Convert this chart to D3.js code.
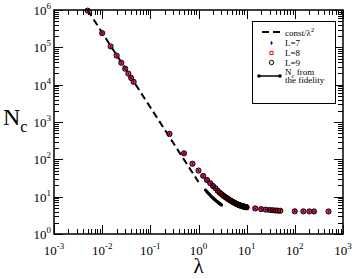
<!DOCTYPE html>
<html lang="en">
<head>
<meta charset="UTF-8">
<title>Nc vs lambda</title>
<script src="https://cdn.jsdelivr.net/npm/d3@7"></script>
<style>
  body { margin: 0; background: #fff; }
  svg text { font-family: "Liberation Serif", "Times New Roman", serif; fill: #000; }
</style>
</head>
<body>
<script>
// L=7, L=8, L=9 points coincide on the picture
var lambdaL = [0.005, 0.01, 0.015, 0.02, 0.025, 0.03, 0.035, 0.04, 0.045,
    0.25, 0.5, 0.75, 1, 1.25, 1.5, 1.75, 2, 2.25, 2.5, 2.75, 3, 3.25, 3.5, 3.75, 4,
    4.25, 4.5, 4.75, 5, 5.25, 5.5, 5.75, 6, 6.25, 6.5, 6.75, 7, 7.25, 7.5, 7.75, 8,
    8.25, 8.5, 8.75, 9, 9.25, 9.5, 9.75, 10, 15, 20, 25, 30, 35, 40, 45, 50,
    100, 150, 200, 250, 500];
var ncL = [960000, 240000, 106000, 60000, 38500, 26800, 19700, 15100, 11900,
    478, 145, 76, 50, 36, 28, 23, 19.3, 16.8, 14.4, 12.8, 11.7, 10.8, 10.0, 9.4, 8.9,
    8.45, 8.05, 7.7, 7.4, 7.15, 6.9, 6.7, 6.5, 6.35, 6.2, 6.05, 5.95, 5.85, 5.75, 5.67, 5.6,
    5.53, 5.47, 5.41, 5.36, 5.31, 5.27, 5.23, 5.2, 4.85, 4.65, 4.5, 4.4, 4.33, 4.27, 4.22, 4.18,
    4.06, 4.04, 4.03, 4.02, 4.01];

// Nc from the fidelity, two pieces
var fidLambdaA = [1.4, 1.5, 1.6, 1.7, 1.8, 1.9, 2.0, 2.1, 2.2, 2.3, 2.4, 2.5, 2.6, 2.7, 2.8, 2.9, 3.0];
var fidNcA = [15.0, 13.6, 12.4, 11.4, 10.5, 9.8, 9.2, 8.7, 8.25, 7.85, 7.5, 7.2, 6.9, 6.65, 6.42, 6.2, 6.0];
var fidLambdaB = [2.5, 2.75, 3, 3.25, 3.5, 3.75, 4, 4.25, 4.5, 4.75, 5, 5.25, 5.5, 5.75, 6, 6.25,
    6.5, 6.75, 7, 7.25, 7.5, 7.75, 8, 8.25, 8.5, 8.75, 9, 9.25, 9.5, 9.75, 10, 10.25, 10.5];
var fidNcB = [14.0, 12.5, 11.4, 10.55, 9.8, 9.2, 8.7, 8.27, 7.9, 7.56, 7.27, 7.02, 6.79, 6.59, 6.4, 6.25,
    6.1, 5.97, 5.86, 5.76, 5.67, 5.59, 5.52, 5.46, 5.4, 5.34, 5.29, 5.24, 5.2, 5.16, 5.13, 5.1, 5.07];

// const/lambda^2 guide (straight in log-log, two ends)
var fitLambda = [0.005, 1.0];
var fitNc = [988000, 24.7];

var xTickExp = [-3, -2, -1, 0, 1, 2, 3];
var yTickExp = [0, 1, 2, 3, 4, 5, 6];

var W = 353, H = 279;
var margin = {top: 10, right: 10, bottom: 45, left: 54};
var x0 = margin.left, x1 = W - margin.right, y0 = H - margin.bottom, y1 = margin.top;

var svg = d3.select("body").append("svg")
    .attr("width", W).attr("height", H)
    .attr("font-family", "'Liberation Serif', serif");

var x = d3.scaleLog().domain([1e-3, 1e3]).range([x0, x1]);
var y = d3.scaleLog().domain([1, 1e6]).range([y0, y1]);

function isMajor(v) {
    var l = Math.log10(v);
    return Math.abs(l - Math.round(l)) < 1e-9;
}

// ticks on all four sides, pointing inwards
var tg = svg.append("g").attr("stroke", "#000").attr("stroke-width", 1);
x.ticks().forEach(function(v) {
    var len = isMajor(v) ? 9 : 5, px = Math.round(x(v)) + 0.5;
    tg.append("line").attr("x1", px).attr("x2", px).attr("y1", y0).attr("y2", y0 - len);
    tg.append("line").attr("x1", px).attr("x2", px).attr("y1", y1).attr("y2", y1 + len);
});
y.ticks().forEach(function(v) {
    var len = isMajor(v) ? 9 : 5, py = Math.round(y(v)) + 0.5;
    tg.append("line").attr("y1", py).attr("y2", py).attr("x1", x0).attr("x2", x0 + len);
    tg.append("line").attr("y1", py).attr("y2", py).attr("x1", x1).attr("x2", x1 - len);
});

// tick labels
xTickExp.forEach(function(e) {
    var t = svg.append("text")
        .attr("x", x(Math.pow(10, e)))
        .attr("y", y0 + 21)
        .attr("text-anchor", "middle")
        .style("font-size", "13px");
    t.append("tspan").text("10");
    t.append("tspan").attr("dy", -6).style("font-size", "9px").text(e);
});
yTickExp.forEach(function(e) {
    var t = svg.append("text")
        .attr("x", x0 - 3)
        .attr("y", y(Math.pow(10, e)) + 5)
        .attr("text-anchor", "end")
        .style("font-size", "13px");
    t.append("tspan").text("10");
    t.append("tspan").attr("dy", -6).style("font-size", "9px").text(e);
});

// axis titles
var yl = svg.append("text").attr("x", 3).attr("y", 125).style("font-size", "24px");
yl.append("tspan").text("N");
yl.append("tspan").attr("dy", 7).style("font-size", "16px").text("c");

svg.append("text").attr("x", x(1)).attr("y", 273)
    .attr("text-anchor", "middle").style("font-size", "21px").text("λ");

// dashed guide
var line = d3.line().x(function(d) { return x(d[0]); }).y(function(d) { return y(d[1]); });
svg.append("path")
    .datum(d3.zip(fitLambda, fitNc))
    .attr("d", line)
    .attr("fill", "none").attr("stroke", "#000")
    .attr("stroke-width", 2).attr("stroke-dasharray", "7,4");

// fidelity pieces
[[fidLambdaA, fidNcA], [fidLambdaB, fidNcB]].forEach(function(s) {
    var pts = d3.zip(s[0], s[1]);
    svg.append("path").datum(pts).attr("d", line)
        .attr("fill", "none").attr("stroke", "#000").attr("stroke-width", 1.5);
    svg.append("g").selectAll("circle").data(pts).enter().append("circle")
        .attr("cx", function(d) { return x(d[0]); })
        .attr("cy", function(d) { return y(d[1]); })
        .attr("r", 1.7).attr("fill", "#000");
});

// L=7 blue diamonds, L=8 red squares, L=9 black circles, drawn on top of each other
var pL = d3.zip(lambdaL, ncL);
var sq = d3.symbol().type(d3.symbolSquare).size(10);
var di = d3.symbol().type(d3.symbolDiamond).size(6);
function at(d) { return "translate(" + x(d[0]) + "," + y(d[1]) + ")"; }
svg.append("g").selectAll("path").data(pL).enter().append("path")
    .attr("d", di).attr("transform", at)
    .attr("fill", "#0000ff").attr("stroke", "none");
svg.append("g").selectAll("path").data(pL).enter().append("path")
    .attr("d", sq).attr("transform", at)
    .attr("fill", "none").attr("stroke", "#ff0000").attr("stroke-width", 1.2);
svg.append("g").selectAll("circle").data(pL).enter().append("circle")
    .attr("cx", function(d) { return x(d[0]); })
    .attr("cy", function(d) { return y(d[1]); })
    .attr("r", 2.6).attr("fill", "none").attr("stroke", "#000").attr("stroke-width", 1);

// frame
svg.append("rect").attr("x", x0).attr("y", y1)
    .attr("width", x1 - x0).attr("height", y0 - y1)
    .attr("fill", "none").attr("stroke", "#000").attr("stroke-width", 1.5);

// legend
var lg = svg.append("g");
lg.append("rect").attr("x", 252.5).attr("y", 21.5).attr("width", 83).attr("height", 82)
    .attr("fill", "#fff").attr("stroke", "#000").attr("stroke-width", 1);
var lx = 285, fs = "9px";
lg.append("line").attr("x1", 262).attr("x2", 281).attr("y1", 32).attr("y2", 32)
    .attr("stroke", "#000").attr("stroke-width", 2).attr("stroke-dasharray", "7,4");
var t1 = lg.append("text").attr("x", lx).attr("y", 35.5).style("font-size", fs);
t1.append("tspan").text("const/λ");
t1.append("tspan").attr("dy", -4).style("font-size", "6.5px").text("2");
lg.append("path").attr("d", di).attr("transform", "translate(271.5,43)").attr("fill", "#0000ff");
lg.append("text").attr("x", lx).attr("y", 46).style("font-size", fs).text("L=7");
lg.append("path").attr("d", sq).attr("transform", "translate(271.5,53)")
    .attr("fill", "#fff").attr("stroke", "#ff0000");
lg.append("text").attr("x", lx).attr("y", 56).style("font-size", fs).text("L=8");
lg.append("circle").attr("cx", 271.5).attr("cy", 62.5).attr("r", 2.2)
    .attr("fill", "none").attr("stroke", "#000");
lg.append("text").attr("x", lx).attr("y", 65.5).style("font-size", fs).text("L=9");
lg.append("line").attr("x1", 259).attr("x2", 280).attr("y1", 76).attr("y2", 76)
    .attr("stroke", "#000").attr("stroke-width", 1.5);
[259, 280].forEach(function(cx) {
    lg.append("circle").attr("cx", cx).attr("cy", 76).attr("r", 1.8).attr("fill", "#000");
});
var t5 = lg.append("text").attr("x", lx).attr("y", 74.5).style("font-size", fs);
t5.append("tspan").text("N");
t5.append("tspan").attr("dy", 3).style("font-size", "6.5px").text("c");
t5.append("tspan").attr("dy", -3).text(" from");
lg.append("text").attr("x", lx).attr("y", 83).style("font-size", fs).text("the fidelity");
</script>
</body>
</html>
